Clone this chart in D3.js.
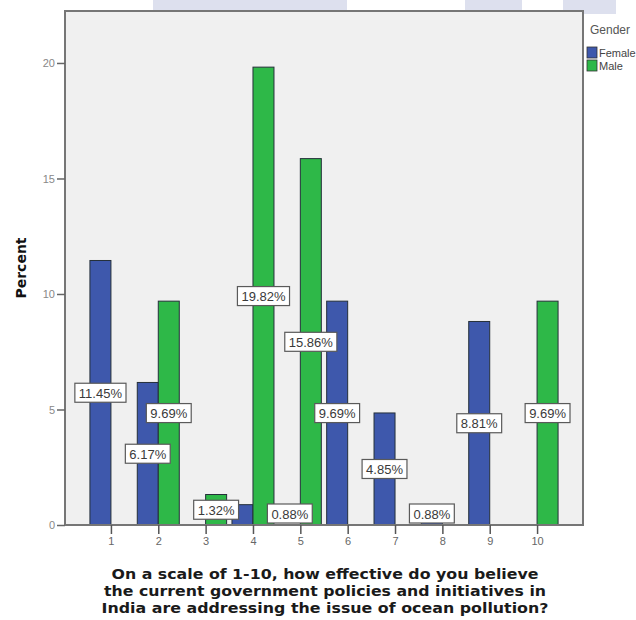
<!DOCTYPE html>
<html>
<head>
<meta charset="utf-8">
<script src="https://cdn.jsdelivr.net/npm/d3@7"></script>
<style>
  html, body { margin: 0; padding: 0; background: #ffffff; }
  svg { display: block; }
</style>
</head>
<body>
<div id="chart"></div>
<script>
// ---- Data ----
const categories = ["1", "2", "3", "4", "5", "6", "7", "8", "9", "10"];
const seriesNames = ["Female", "Male"];
const femaleValues = [11.45, 6.17, 0, 0.88, 0, 9.69, 4.85, 0.88, 8.81, 0];
const maleValues   = [0, 9.69, 1.32, 19.82, 15.86, 0, 0, 0, 0, 9.69];
const yTicks = [0, 5, 10, 15, 20];
const yMax = 22.25;
const yTitle = "Percent";
const xTitleLines = [
  "On a scale of 1-10, how effective do you believe",
  "the current government policies and initiatives in",
  "India are addressing the issue of ocean pollution?"
];
const legendTitle = "Gender";
const colors = { Female: "#3E58AC", Male: "#2EB848" };

// ---- Layout ----
const W = 636, H = 620;
const plot = { left: 65, right: 583, top: 11, bottom: 525 };
const barW = 21;

const svg = d3.select("#chart").append("svg")
  .attr("width", W).attr("height", H)
  .style("font-family", "'Liberation Sans', Arial, sans-serif");

// faint decorative watermark strips at the top
const wm = [[153, 347], [465, 522], [563, 616]];
svg.selectAll("rect.wm").data(wm).enter().append("rect")
  .attr("class", "wm")
  .attr("x", d => d[0]).attr("y", 0)
  .attr("width", d => d[1] - d[0]).attr("height", 14)
  .attr("fill", "#DDE0EE");

const x = d3.scalePoint().domain(categories)
  .range([plot.left, plot.right]).padding(0.97);
const y = d3.scaleLinear().domain([0, yMax]).range([plot.bottom, plot.top]);

// plot background
svg.append("rect")
  .attr("x", plot.left).attr("y", plot.top)
  .attr("width", plot.right - plot.left).attr("height", plot.bottom - plot.top)
  .attr("fill", "#F0F0F0");

// bars
const bars = [];
categories.forEach((c, i) => {
  bars.push({ cat: c, series: "Female", value: femaleValues[i] });
  bars.push({ cat: c, series: "Male", value: maleValues[i] });
});
const barX = d => d.series === "Female" ? x(d.cat) - barW : x(d.cat);
const shown = bars.filter(d => d.value > 0);

svg.append("g").selectAll("rect").data(shown).enter().append("rect")
  .attr("x", barX)
  .attr("y", d => y(d.value))
  .attr("width", barW)
  .attr("height", d => y(0) - y(d.value))
  .attr("fill", d => colors[d.series])
  .attr("stroke", "#25303a")
  .attr("stroke-width", 1);

// plot border
svg.append("rect")
  .attr("x", plot.left).attr("y", plot.top)
  .attr("width", plot.right - plot.left).attr("height", plot.bottom - plot.top)
  .attr("fill", "none").attr("stroke", "#767676").attr("stroke-width", 2);

// y axis
const yAxis = d3.axisLeft(y).tickValues(yTicks).tickSize(8).tickPadding(2)
  .tickFormat(d3.format("d"));
const gy = svg.append("g").attr("transform", `translate(${plot.left},0)`).call(yAxis);
gy.select(".domain").remove();
gy.selectAll(".tick line").attr("stroke", "#666").attr("stroke-width", 1.5);
gy.selectAll(".tick text").attr("fill", "#888").style("font-size", "11px")
  .style("font-family", "'Liberation Sans', Arial, sans-serif");

// x axis
const xAxis = d3.axisBottom(x).tickSize(9).tickPadding(3);
const gx = svg.append("g").attr("transform", `translate(0,${plot.bottom})`).call(xAxis);
gx.select(".domain").remove();
gx.selectAll(".tick line").attr("stroke", "#555").attr("stroke-width", 1.5);
gx.selectAll(".tick text").attr("fill", "#666").style("font-size", "11px")
  .style("font-family", "'Liberation Sans', Arial, sans-serif");

// value labels
const labelFont = 13, padX = 4, boxH = 19;
const placed = [];
const gl = svg.append("g");
shown.forEach(d => {
  const txt = d.value.toFixed(2) + "%";
  const t = gl.append("text").text(txt)
    .style("font-size", labelFont + "px").attr("fill", "#3a3a3a")
    .attr("text-anchor", "middle").attr("dominant-baseline", "central");
  const tw = t.node().getComputedTextLength();
  const bw = tw + 2 * padX;
  let cx = barX(d) + barW / 2;
  const mid = (y(0) + y(d.value)) / 2;
  const cy = Math.min(mid, plot.bottom - 11.5);
  const overlaps = (a, b) => a.x0 < b.x1 && b.x0 < a.x1 && a.y0 < b.y1 && b.y0 < a.y1;
  let box = { x0: cx - bw / 2, x1: cx + bw / 2, y0: cy - boxH / 2, y1: cy + boxH / 2 };
  if (placed.some(p => overlaps(p, box))) {
    cx += x.step();
    box = { x0: cx - bw / 2, x1: cx + bw / 2, y0: cy - boxH / 2, y1: cy + boxH / 2 };
  }
  placed.push(box);
  gl.insert("rect", () => t.node())
    .attr("x", box.x0).attr("y", box.y0)
    .attr("width", bw).attr("height", boxH)
    .attr("fill", "#ffffff").attr("stroke", "#5a5a5a").attr("stroke-width", 1.2);
  t.attr("x", cx).attr("y", cy + 0.5);
});

// y title
svg.append("text")
  .attr("transform", `translate(26,268) rotate(-90)`)
  .attr("text-anchor", "middle")
  .style("font-family", "'DejaVu Sans', Verdana, sans-serif")
  .style("font-weight", "bold").style("font-size", "14px")
  .attr("fill", "#111")
  .text(yTitle);

// x title
const xtWidths = [427, 442, 447];
const xt = svg.append("text")
  .attr("text-anchor", "middle")
  .style("font-family", "'DejaVu Sans', Verdana, sans-serif")
  .style("font-weight", "bold").style("font-size", "14.5px")
  .attr("fill", "#1a1a1a");
xTitleLines.forEach((line, i) => {
  xt.append("tspan").attr("x", 325).attr("y", 579 + i * 17)
    .attr("textLength", xtWidths[i]).attr("lengthAdjust", "spacingAndGlyphs")
    .text(line);
});

// legend
const lg = svg.append("g");
lg.append("text").attr("x", 590).attr("y", 34).text(legendTitle)
  .style("font-size", "12px").attr("fill", "#555");
seriesNames.forEach((s, i) => {
  const yy = 47 + i * 13;
  lg.append("rect").attr("x", 587).attr("y", yy).attr("width", 10).attr("height", 11)
    .attr("fill", colors[s]).attr("stroke", "#333").attr("stroke-width", 0.8);
  lg.append("text").attr("x", 599).attr("y", yy + 9.5).text(s)
    .style("font-size", "11px").attr("fill", "#444");
});
</script>
</body>
</html>
